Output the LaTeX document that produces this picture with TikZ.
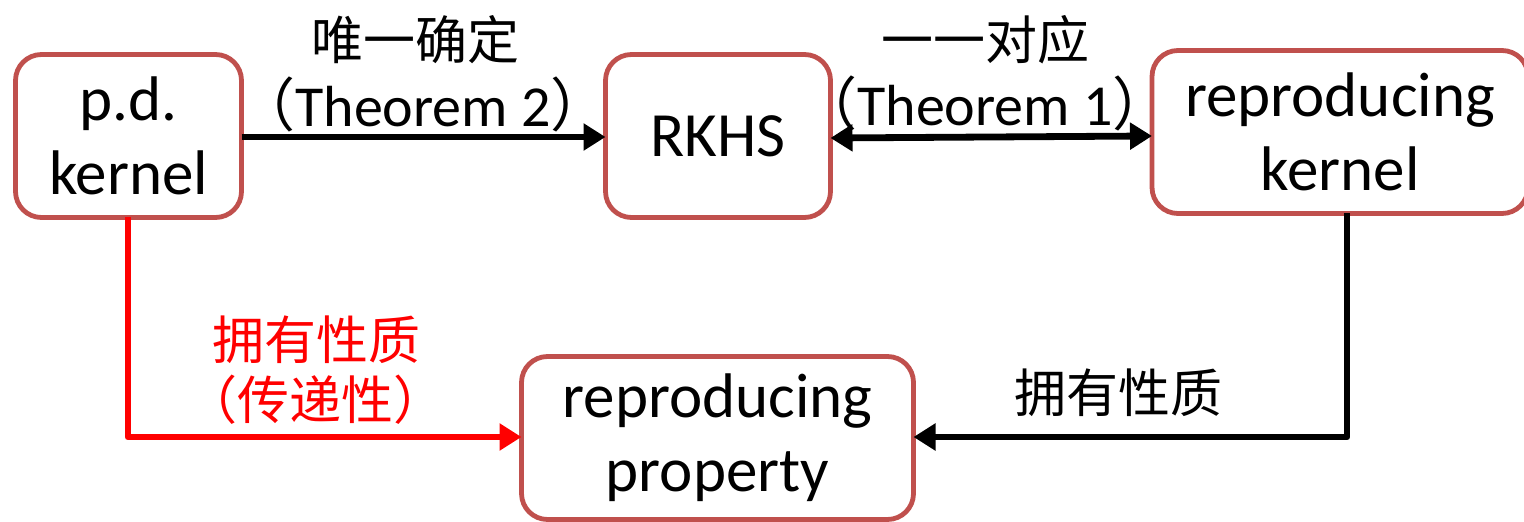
\documentclass[tikz,border=0pt]{standalone}
\usepackage{fontspec}
\setmainfont{Carlito}
\newfontfamily\cjk{Noto Sans CJK SC}
\usetikzlibrary{arrows.meta}
\definecolor{boxred}{HTML}{C0504D}
\definecolor{linkred}{HTML}{FF0000}
\tikzset{
  box/.style={draw=boxred, line width=2.4pt, rounded corners=13pt, fill=white,
    inner sep=0pt, outer sep=0pt, align=center,
    font=\fontsize{31.5}{37}\selectfont},
  tip/.tip={Triangle[length=11pt,width=13pt]},
  link/.style={line width=3.4pt, -tip},
  lbl/.style={inner sep=0pt, font=\fontsize{26}{30}\selectfont},
  thm/.style={inner sep=0pt, font=\fontsize{29}{32}\selectfont},
}
\begin{document}
\begin{tikzpicture}[x=0.5pt,y=-0.5pt]
  \useasboundingbox (0,0) rectangle (1524,522);
  % the four concepts
  \node[box, minimum width=113pt, minimum height=81.5pt] (pd) at (128.5,136) {p.d.\\kernel};
  \node[box, minimum width=112.5pt, minimum height=81.5pt] (rkhs) at (718,136) {RKHS};
  \node[box, minimum width=188pt, minimum height=81.5pt] (rk) at (1340,132) {reproducing\\kernel};
  \node[box, minimum width=196pt, minimum height=81.5pt] (rp) at (717.5,438) {reproducing\\property};
  % corners of the elbow connectors
  \coordinate (c1) at (128,437);
  \coordinate (c2) at (1347,437);
  % connectors
  \draw[link] (pd.east |- 0,137) -- (rkhs.west |- 0,137);
  \draw[link, tip-tip] (rkhs.east |- 0,138) -- (rk.west |- 0,136);
  \draw[link, line join=round] (rk.south -| c2) -- (c2) -- (rp.east |- c2);
  \draw[link, linkred, line join=round] (pd.south -| c1) -- (c1) -- (rp.west |- c1);
  % labels
  \node[lbl] (l1) at (415,40) {\cjk 唯一确定};
  \node[thm] (l2) at (423,104) {{\cjk （}Theorem 2{\cjk ）}};
  \node[lbl] (l3) at (985,40) {\cjk 一一对应};
  \node[thm] (l4) at (985,103) {{\cjk （}Theorem 1{\cjk ）}};
  \node[lbl, text=linkred] (l5) at (316,340) {\cjk 拥有性质};
  \node[lbl, text=linkred] (l6) at (315,400) {\cjk （传递性）};
  \node[lbl] (l7) at (1118,393) {\cjk 拥有性质};
\end{tikzpicture}
\end{document}
